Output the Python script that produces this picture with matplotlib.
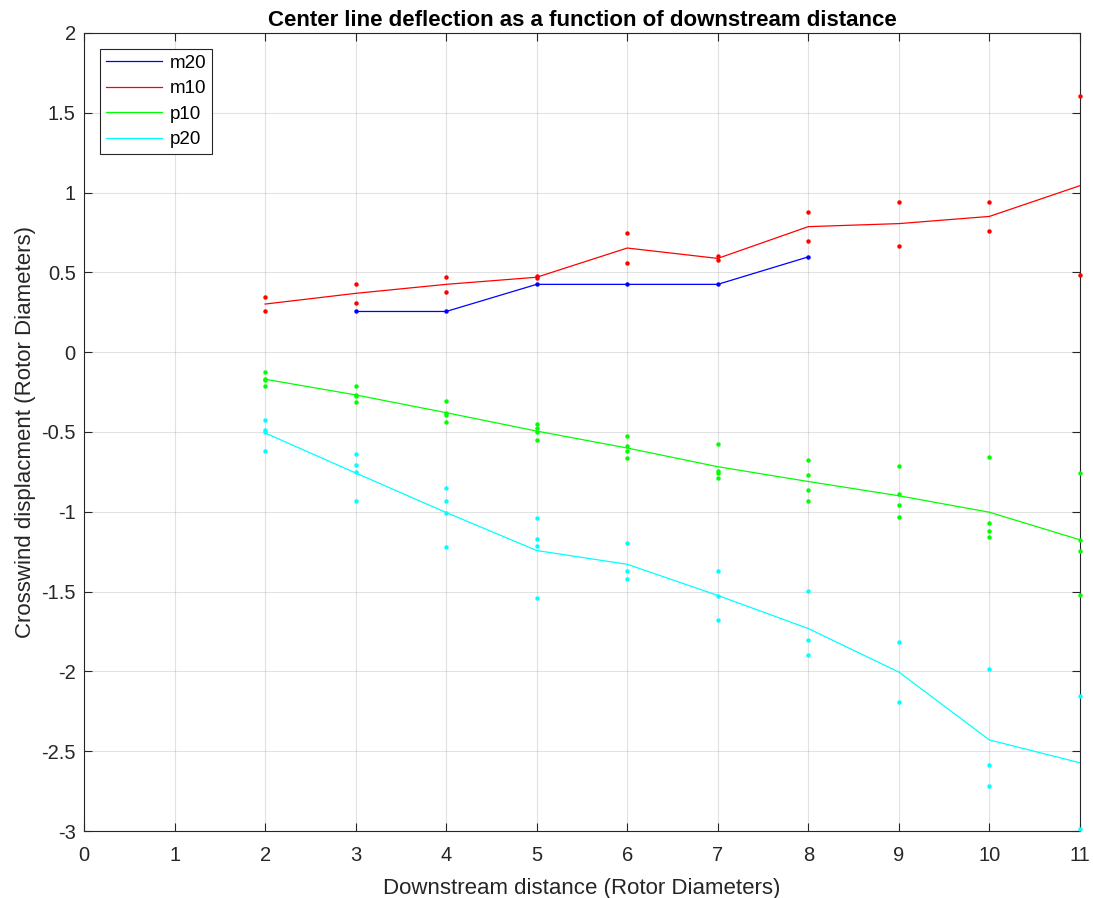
import matplotlib.pyplot as plt
import numpy as np

plt.rcParams['font.family'] = ['Liberation Sans', 'DejaVu Sans']

# downstream positions (rotor diameters)
dist = [2, 3, 4, 5, 6, 7, 8, 9, 10, 11]

# crosswind displacement samples per position
m20_x = [3, 4, 5, 6, 7, 8]
m20_pts = [[0.255], [0.255], [0.425], [0.425], [0.425], [0.597]]

m10_x = [2, 3, 4, 5, 6, 7, 8, 9, 10, 11]
m10_pts = [[0.344, 0.259], [0.426, 0.311], [0.470, 0.380], [0.476, 0.463],
           [0.745, 0.560], [0.600, 0.575], [0.877, 0.696], [0.943, 0.668],
           [0.940, 0.761], [1.605, 0.481]]

p10_x = [2, 3, 4, 5, 6, 7, 8, 9, 10, 11]
p10_pts = [[-0.123, -0.169, -0.175, -0.211], [-0.213, -0.267, -0.276, -0.315],
           [-0.303, -0.378, -0.395, -0.440], [-0.451, -0.478, -0.499, -0.549],
           [-0.528, -0.587, -0.622, -0.665], [-0.578, -0.745, -0.757, -0.790],
           [-0.674, -0.772, -0.864, -0.931], [-0.715, -0.889, -0.959, -1.035],
           [-0.658, -1.071, -1.122, -1.160], [-0.758, -1.177, -1.245, -1.522]]

p20_x = [2, 3, 4, 5, 6, 7, 8, 9, 10, 11]
p20_pts = [[-0.424, -0.486, -0.497, -0.618], [-0.637, -0.706, -0.752, -0.933],
           [-0.850, -0.935, -1.010, -1.223], [-1.042, -1.169, -1.217, -1.543],
           [-1.198, -1.370, -1.419], [-1.370, -1.527, -1.675],
           [-1.495, -1.802, -1.898], [-1.815, -2.193],
           [-1.986, -2.587, -2.715], [-2.155, -2.990]]

series = [("m20", m20_x, m20_pts, (0, 0, 1)),
          ("m10", m10_x, m10_pts, (1, 0, 0)),
          ("p10", p10_x, p10_pts, (0, 1, 0)),
          ("p20", p20_x, p20_pts, (0, 1, 1))]

fig = plt.figure(figsize=(10.93, 8.98), dpi=100)
ax = fig.add_axes([0.0769, 0.0746, 0.9111, 0.8887])

axcol = '#262626'
for name, xs, pts, col in series:
    # line goes through the mean at each station, dots are the raw samples
    means = [np.mean(p) for p in pts]
    ax.plot(xs, means, color=col, lw=0.9, label=name, zorder=3)
    for x, p in zip(xs, pts):
        ax.plot([x] * len(p), p, linestyle='none', marker='o', ms=3.2,
                mfc=col, mec='none', zorder=4, clip_on=False)

ax.set_xlim(0, 11)
ax.set_ylim(-3, 2)
ax.set_xticks(range(0, 12))
ax.set_yticks(np.arange(-3, 2.01, 0.5))
ax.set_yticklabels(['-3', '-2.5', '-2', '-1.5', '-1', '-0.5', '0', '0.5', '1', '1.5', '2'])
ax.grid(True, color='#262626', alpha=0.13, lw=0.8)
ax.set_axisbelow(True)
ax.tick_params(direction='in', top=True, right=True, length=6, width=0.8,
               colors=axcol, labelsize=14.5)
ax.tick_params(axis='x', pad=11)
ax.tick_params(axis='y', pad=6)
for s in ax.spines.values():
    s.set_color(axcol)
    s.set_linewidth(0.8)

ax.set_title("Center line deflection as a function of downstream distance",
             fontsize=16, fontweight='bold', pad=5)
ax.set_xlabel("Downstream distance (Rotor Diameters)", fontsize=16, color=axcol, labelpad=9)
ax.set_ylabel("Crosswind displacment (Rotor Diameters)", fontsize=16, color=axcol, labelpad=4)

leg = ax.legend(loc='upper left', bbox_to_anchor=(0.016, 0.98), borderaxespad=0,
                fontsize=13.5, handlelength=3.0, handletextpad=0.4, borderpad=0.32,
                labelspacing=0.44, fancybox=False, framealpha=1)
leg.get_frame().set_edgecolor(axcol)
leg.get_frame().set_linewidth(0.8)

fig.savefig("out.png", dpi=100)
